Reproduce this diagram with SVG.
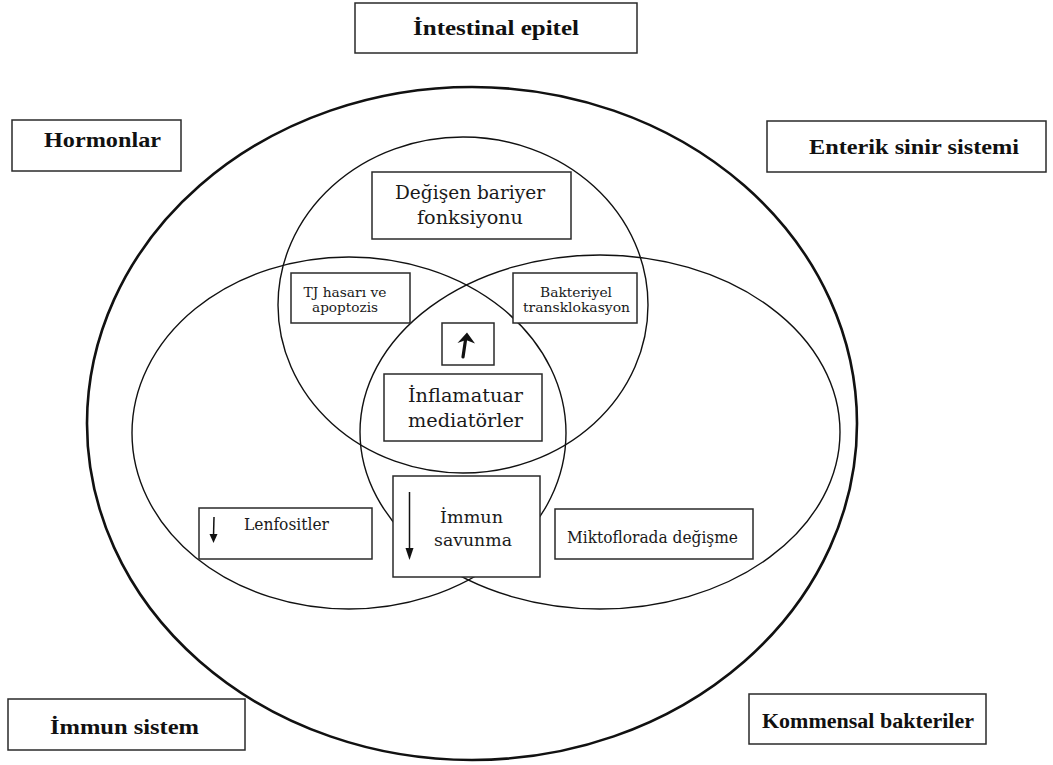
<svg xmlns="http://www.w3.org/2000/svg" width="1053" height="765" viewBox="0 0 1053 765">
<style>
.bg{fill:#ffffff}
.ring{fill:none;stroke:#111;stroke-width:1.4}
.outer{fill:none;stroke:#111;stroke-width:2.6}
.box{fill:#ffffff;stroke:#2a2a2a;stroke-width:1.5}
.lbl{font-family:"Liberation Serif","DejaVu Serif",serif;font-weight:bold;font-size:22px;fill:#111;text-anchor:middle}
.t{font-family:"DejaVu Serif","Liberation Serif",serif;fill:#1a1a1a;text-anchor:middle}
.arr{stroke:#111;fill:none}
.head{fill:#111;stroke:none}
</style>
<rect class="bg" x="0" y="0" width="1053" height="765"/>
<g id="shapes">
  <ellipse class="outer" cx="472" cy="423.5" rx="385" ry="336.5"/>
  <ellipse class="ring" cx="463" cy="305" rx="185" ry="168"/>
  <ellipse class="ring" cx="349" cy="433" rx="217" ry="176"/>
  <ellipse class="ring" cx="600" cy="432" rx="240" ry="177"/>
</g>
<g id="connectors"></g>
<g id="n-intestinal">
  <rect class="box" x="355" y="3" width="282" height="50"/>
  <text class="lbl" x="496" y="35" textLength="166" lengthAdjust="spacingAndGlyphs">İntestinal epitel</text>
</g>
<g id="n-hormonlar">
  <rect class="box" x="12" y="120" width="169" height="51"/>
  <text class="lbl" x="102.5" y="147" textLength="117" lengthAdjust="spacingAndGlyphs">Hormonlar</text>
</g>
<g id="n-enterik">
  <rect class="box" x="767" y="121" width="279" height="51"/>
  <text class="lbl" x="914" y="154" textLength="210" lengthAdjust="spacingAndGlyphs">Enterik sinir sistemi</text>
</g>
<g id="n-immunsistem">
  <rect class="box" x="8" y="699" width="237" height="51"/>
  <text class="lbl" x="124.5" y="734" textLength="149" lengthAdjust="spacingAndGlyphs">İmmun sistem</text>
</g>
<g id="n-kommensal">
  <rect class="box" x="749" y="694" width="237" height="50"/>
  <text class="lbl" x="868" y="728" textLength="212" lengthAdjust="spacingAndGlyphs">Kommensal bakteriler</text>
</g>
<g id="n-bariyer">
  <rect class="box" x="372" y="172" width="199" height="67"/>
  <text class="t" font-size="19" x="470" y="199" textLength="150" lengthAdjust="spacingAndGlyphs">Değişen bariyer</text>
  <text class="t" font-size="19" x="470" y="224" textLength="106" lengthAdjust="spacingAndGlyphs">fonksiyonu</text>
</g>
<g id="n-tj">
  <rect class="box" x="291" y="273" width="119" height="50"/>
  <text class="t" font-size="13.5" x="345" y="297" textLength="83" lengthAdjust="spacingAndGlyphs">TJ hasarı ve</text>
  <text class="t" font-size="13.5" x="345" y="312" textLength="66" lengthAdjust="spacingAndGlyphs">apoptozis</text>
</g>
<g id="n-bakteriyel">
  <rect class="box" x="513" y="273" width="124" height="50"/>
  <text class="t" font-size="13.5" x="576" y="297" textLength="72" lengthAdjust="spacingAndGlyphs">Bakteriyel</text>
  <text class="t" font-size="13.5" x="576.5" y="312" textLength="107" lengthAdjust="spacingAndGlyphs">transklokasyon</text>
</g>
<g id="n-artis">
  <rect class="box" x="442" y="323" width="52" height="42"/>
  <path class="arr" d="M463 357 L465.5 340" stroke-width="3.2" stroke-linecap="round"/>
  <polygon class="head" points="457.5,343 467,332.5 475,343.5 466,340"/>
</g>
<g id="n-inflamatuar">
  <rect class="box" x="384" y="374" width="158" height="67"/>
  <text class="t" font-size="19" x="465.5" y="402" textLength="115" lengthAdjust="spacingAndGlyphs">İnflamatuar</text>
  <text class="t" font-size="19" x="465.5" y="427" textLength="115" lengthAdjust="spacingAndGlyphs">mediatörler</text>
</g>
<g id="n-immunsavunma">
  <rect class="box" x="393" y="476" width="147" height="101"/>
  <text class="t" font-size="17" x="471.5" y="523" textLength="63" lengthAdjust="spacingAndGlyphs">İmmun</text>
  <text class="t" font-size="17" x="473" y="546" textLength="78" lengthAdjust="spacingAndGlyphs">savunma</text>
  <path class="arr" d="M409.5 492 L409.5 550" stroke-width="1.5"/>
  <polygon class="head" points="405.5,548 413.5,548 409.5,560"/>
</g>
<g id="n-lenfositler">
  <rect class="box" x="199" y="508" width="173" height="51"/>
  <text class="t" font-size="16" x="286.5" y="530" textLength="85" lengthAdjust="spacingAndGlyphs">Lenfositler</text>
  <path class="arr" d="M214 517 L213.5 536" stroke-width="1.5"/>
  <polygon class="head" points="209.5,534 217.5,534 213.5,543"/>
</g>
<g id="n-miktoflora">
  <rect class="box" x="555" y="509" width="198" height="50"/>
  <text class="t" font-size="16" x="652.5" y="543" textLength="171" lengthAdjust="spacingAndGlyphs">Miktoflorada değişme</text>
</g>
</svg>
